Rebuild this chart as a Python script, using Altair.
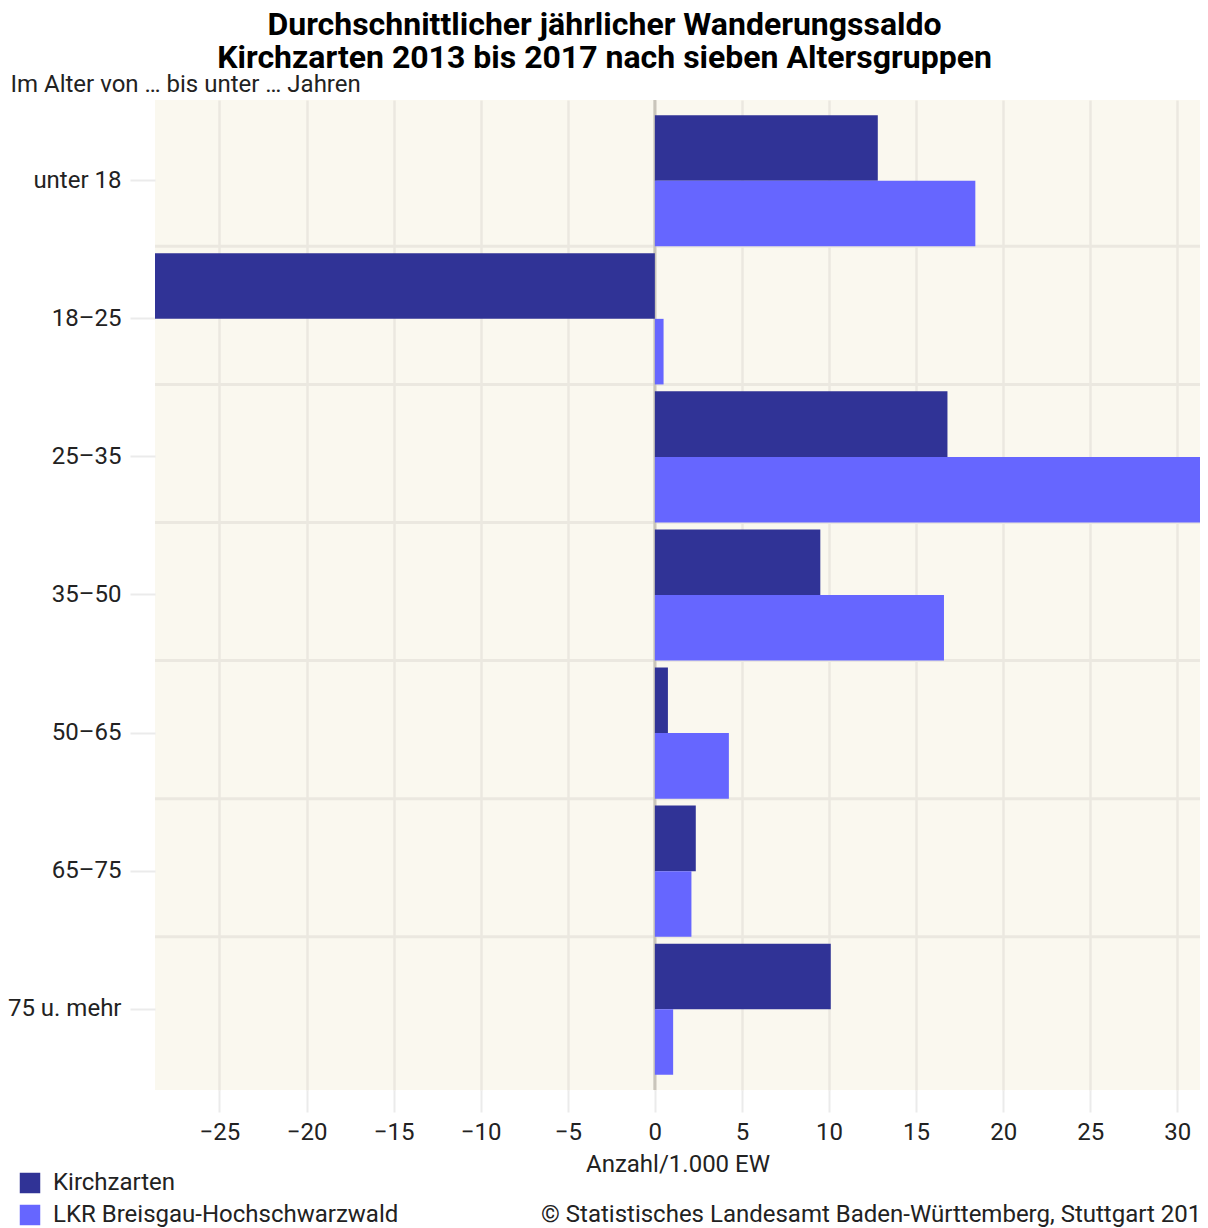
import altair as alt
import pandas as pd

categories = ["unter 18", "18–25", "25–35", "35–50", "50–65", "65–75", "75 u. mehr"]
series = ["Kirchzarten", "LKR Breisgau-Hochschwarzwald"]
kirchzarten = [12.8, -28.7, 16.8, 9.5, 0.75, 2.35, 10.1]
lkr = [18.4, 0.5, 31.3, 16.6, 4.25, 2.1, 1.05]
colors = ["#303396", "#6666ff"]
x_ticks = [-25, -20, -15, -10, -5, 0, 5, 10, 15, 20, 25, 30]

rows = []
for c, k, l in zip(categories, kirchzarten, lkr):
    rows.append({"age": c, "series": series[0], "value": k})
    rows.append({"age": c, "series": series[1], "value": l})
df = pd.DataFrame(rows)

all_vals = kirchzarten + lkr
xdom = [min(all_vals), max(all_vals)]

FONT = "Roboto"
FS = 24

yscale = alt.Scale(domain=categories, paddingInner=0.05, paddingOuter=0.11)
xscale = alt.Scale(domain=xdom, nice=False, zero=False)

bars = alt.Chart(df).mark_bar().encode(
    x=alt.X("value:Q", scale=xscale,
            axis=alt.Axis(values=x_ticks, title="Anzahl/1.000 EW", grid=True,
                          gridColor="#ebe8e0", gridWidth=2.5, domain=False,
                          tickColor="#ebebeb", tickSize=22, tickWidth=2,
                          labelFontSize=FS, labelFont=FONT, labelColor="#222",
                          labelPadding=8, titleFontSize=FS, titleFont=FONT,
                          titleFontWeight="normal", titleColor="#222", titlePadding=8)),
    y=alt.Y("age:N", scale=yscale, sort=categories,
            axis=alt.Axis(title="Im Alter von … bis unter … Jahren", titleAngle=0,
                          titleAlign="left", titleBaseline="middle", titleX=-145, titleY=-16,
                          titleFontSize=FS, titleFont=FONT, titleFontWeight="normal",
                          titleColor="#222", labelFontSize=FS, labelFont=FONT,
                          labelColor="#222", labelPadding=9, tickColor="#ebebeb",
                          tickSize=25, tickWidth=2, domain=False, grid=False)),
    yOffset=alt.YOffset("series:N", sort=series),
    color=alt.Color("series:N", sort=series,
                    scale=alt.Scale(domain=series, range=colors),
                    legend=alt.Legend(title=None, orient="none", legendX=-137, legendY=1071,
                                      symbolType="square", symbolSize=420,
                                      symbolStrokeWidth=0, labelFontSize=FS,
                                      labelFont=FONT, labelColor="#222", labelLimit=600,
                                      rowPadding=8, labelOffset=11)),
)

grid_df = pd.DataFrame({"age": categories[:-1]})
hgrid = alt.Chart(grid_df).mark_rule(color="#ebe8e0", strokeWidth=3).encode(
    y=alt.Y("age:N", scale=yscale, sort=categories, bandPosition=1),
)

zero_df = pd.DataFrame({"z": [0]})
zero = alt.Chart(zero_df).mark_rule(color="#c9c5bb", strokeWidth=3).encode(
    x=alt.X("z:Q", scale=xscale)
)

credit_df = pd.DataFrame({"t": ["© Statistisches Landesamt Baden-Württemberg, Stuttgart 2019"]})
credit = alt.Chart(credit_df).mark_text(
    align="left", baseline="middle", fontSize=FS, font=FONT, color="#222"
).encode(text="t:N", x=alt.value(386), y=alt.value(1115))

chart = alt.layer(hgrid, zero, bars, credit).properties(
    width=1045,
    height=990,
    autosize=alt.AutoSizeParams(type="none"),
    padding={"left": 147, "top": 92, "right": 0, "bottom": 138},
    view=alt.ViewBackground(fill="#faf8ef", stroke=None),
    title=alt.TitleParams(
        text=["Durchschnittlicher jährlicher Wanderungssaldo",
              "Kirchzarten 2013 bis 2017 nach sieben Altersgruppen"],
        anchor="middle", dx=-73, font=FONT, fontSize=32, fontWeight="bold",
        color="#000", lineHeight=33, offset=-3),
).configure(background="white")

chart.save("out.html", embed_options={"renderer": "svg", "actions": False})
